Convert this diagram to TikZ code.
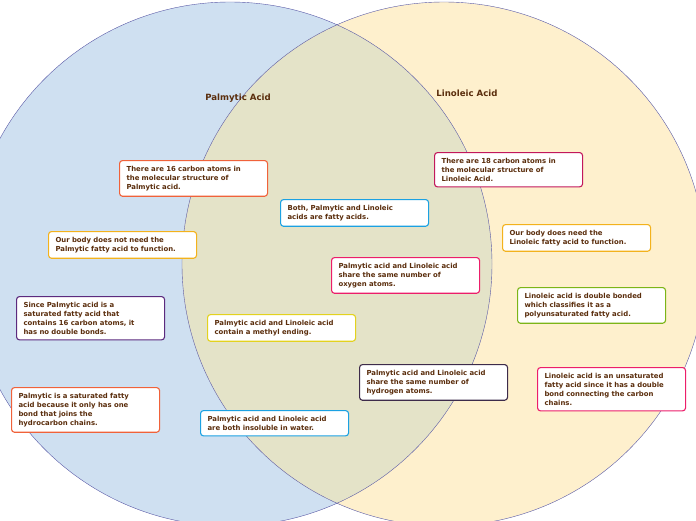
\documentclass[tikz,border=0pt]{standalone}
\usepackage{fontspec}
\setmainfont{DejaVu Sans}
\usepackage{tikz}
\definecolor{txtbrown}{HTML}{5A2D0C}
\definecolor{leftfill}{HTML}{CFE0F1}
\definecolor{rightfill}{HTML}{FEF0CD}
\definecolor{bothfill}{HTML}{E4E3C8}
\definecolor{cred}{HTML}{F0623A}
\definecolor{cblue}{HTML}{1BA1E2}
\definecolor{camber}{HTML}{F3B21C}
\definecolor{ccrimson}{HTML}{C2185B}
\definecolor{cpink}{HTML}{EC1E6A}
\definecolor{cgreen}{HTML}{7CB518}
\definecolor{cpurple}{HTML}{5C2A7E}
\definecolor{cyellow}{HTML}{E3D21E}
\definecolor{cdark}{HTML}{3D2B4A}
\tikzset{
  factbox/.style={draw=#1, line width=1.1pt, fill=white, rounded corners=3pt,
    anchor=north west, text width=134pt, align=left, inner xsep=7pt, inner ysep=5.5pt,
    font=\fontsize{6.9}{9}\selectfont\bfseries, text=txtbrown},
  settitle/.style={font=\fontsize{8.6}{10}\selectfont\bfseries, text=txtbrown}
}
\begin{document}
\begin{tikzpicture}[x=1pt,y=-1pt]
\useasboundingbox (0,0) rectangle (696,520);
%%%%% Circles %%%%%
\begin{scope}
\clip (0,0) rectangle (696,520);
\fill[leftfill] (230,264) circle (262);
\fill[rightfill] (444,264) circle (262);
\begin{scope}
\clip (230,264) circle (262);
\fill[bothfill] (444,264) circle (262);
\end{scope}
\draw[gray!70!blue, line width=0.4pt] (230,264) circle (262);
\draw[gray!70!blue, line width=0.4pt] (444,264) circle (262);
\end{scope}
\node[settitle] (palm) at (238,98) {Palmytic Acid};
\node[settitle] (lino) at (467,93) {Linoleic Acid};
%%%%% Facts %%%%%
\node[factbox=cred] (p16) at (119,160) {There are 16 carbon atoms in\\the molecular structure of\\Palmytic acid.};
\node[factbox=cblue] (both) at (280,199) {Both, Palmytic and Linoleic\\acids are fatty acids.};
\node[factbox=camber] (pneed) at (48,231) {Our body does not need the\\Palmytic fatty acid to function.};
\node[factbox=ccrimson] (l18) at (434,152) {There are 18 carbon atoms in\\the molecular structure of\\Linoleic Acid.};
\node[factbox=camber] (lneed) at (502,224) {Our body does need the\\Linoleic fatty acid to function.};
\node[factbox=cpink] (oxy) at (331,257) {Palmytic acid and Linoleic acid\\share the same number of\\oxygen atoms.};
\node[factbox=cgreen] (ldouble) at (517,287) {Linoleic acid is double bonded\\which classifies it as a\\polyunsaturated fatty acid.};
\node[factbox=cpurple] (psat) at (16,296) {Since Palmytic acid is a\\saturated fatty acid that\\contains 16 carbon atoms, it\\has no double bonds.};
\node[factbox=cyellow] (methyl) at (207,314) {Palmytic acid and Linoleic acid\\contain a methyl ending.};
\node[factbox=cdark] (hyd) at (359,364) {Palmytic acid and Linoleic acid\\share the same number of\\hydrogen atoms.};
\node[factbox=cpink] (lunsat) at (537,367) {Linoleic acid is an unsaturated\\fatty acid since it has a double\\bond connecting the carbon\\chains.};
\node[factbox=cred] (pbond) at (11,387) {Palmytic is a saturated fatty\\acid because it only has one\\bond that joins the\\hydrocarbon chains.};
\node[factbox=cblue] (water) at (200,410) {Palmytic acid and Linoleic acid\\are both insoluble in water.};
\end{tikzpicture}
\end{document}
